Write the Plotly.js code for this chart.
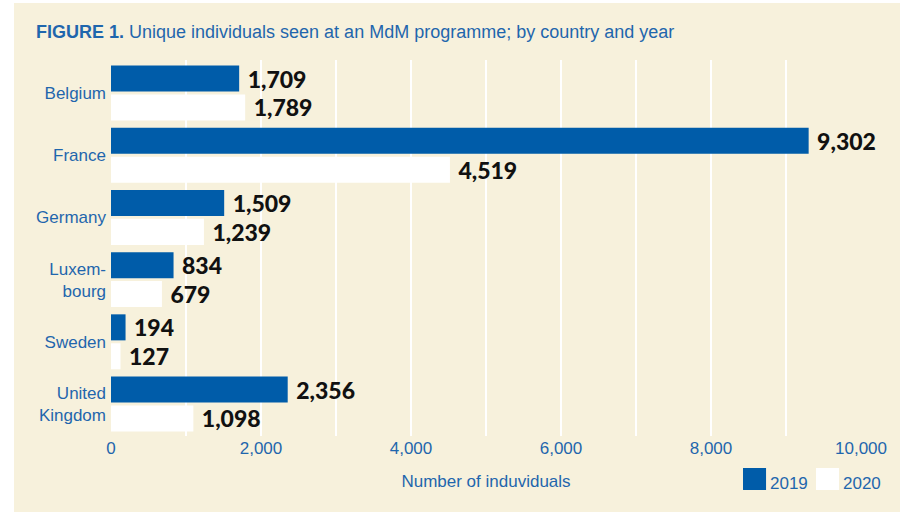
<!DOCTYPE html>
<html>
<head>
<meta charset="utf-8">
<script src="https://cdn.plot.ly/plotly-3.0.1.min.js"></script>
<style>
  html, body { margin: 0; padding: 0; background: #ffffff; }
  #chart { position: absolute; left: 14px; top: 3px; width: 886px; height: 509px; }
</style>
</head>
<body>
<div id="chart"></div>
<script>
// ── Data ──────────────────────────────────────────────────────
const COUNTRIES = ["Belgium", "France", "Germany", "Luxem-<br>bourg", "Sweden", "United<br>Kingdom"];
const VALUES_2019 = [1709, 9302, 1509, 834, 194, 2356];
const VALUES_2020 = [1789, 4519, 1239, 679, 127, 1098];
const SERIES_NAMES = ["2019", "2020"];
const TICK_VALS = [0, 1000, 2000, 3000, 4000, 5000, 6000, 7000, 8000, 9000, 10000];
const TICK_TEXT = ["0", "", "2,000", "", "4,000", "", "6,000", "", "8,000", "", "10,000"];

const BLUE = "#005ca9";
const WHITE = "#ffffff";
const CREAM = "#f7f1dc";
const TEXT_BLUE = "#1f66ad";
const SANS = "'Liberation Sans', Arial, sans-serif";

const labelFont = { family: "Lato, 'Open Sans', sans-serif", size: 23, color: "#111111", weight: 900 };

function barTrace(name, values, color) {
  return {
    type: "bar",
    orientation: "h",
    name: name,
    y: COUNTRIES,
    x: values,
    marker: { color: color, line: { width: 0 } },
    texttemplate: " %{x:,}",
    textposition: "outside",
    outsidetextfont: labelFont,
    textfont: labelFont,
    constraintext: "none",
    cliponaxis: false,
    hoverinfo: "x+y",
  };
}

const traces = [
  barTrace(SERIES_NAMES[0], VALUES_2019, BLUE),
  barTrace(SERIES_NAMES[1], VALUES_2020, WHITE),
];

// ── Legend key (big squares, drawn as shapes + text) ──────────
const keyColors = [BLUE, WHITE];
const keyX = [0.8427, 0.9400];
const shapes = keyX.map((x, i) => ({
  type: "rect", xref: "paper", yref: "paper",
  x0: x, x1: x + 0.0307, y0: -0.1436, y1: -0.0851,
  fillcolor: keyColors[i], line: { width: 0 },
}));
const annotations = keyX.map((x, i) => ({
  xref: "paper", yref: "paper",
  x: x + 0.033, y: -0.125,
  xanchor: "left", yanchor: "middle",
  text: SERIES_NAMES[i], showarrow: false,
  font: { family: SANS, size: 17, color: TEXT_BLUE },
}));

const layout = {
  width: 886,
  height: 509,
  paper_bgcolor: CREAM,
  plot_bgcolor: CREAM,
  margin: { t: 57, r: 39, b: 76, l: 97 },
  barmode: "group",
  bargap: 0.07,
  bargroupgap: 0.1,
  showlegend: false,
  font: { family: SANS, size: 17, color: TEXT_BLUE },
  title: {
    text: "<b>FIGURE 1.</b> Unique individuals seen at an MdM programme; by country and year",
    font: { family: SANS, size: 18, color: TEXT_BLUE },
    xref: "container", yref: "container",
    x: 0.0248, xanchor: "left",
    y: 0.943, yanchor: "middle",
  },
  xaxis: {
    range: [0, 10000],
    tickmode: "array",
    tickvals: TICK_VALS,
    ticktext: TICK_TEXT,
    showgrid: true,
    gridcolor: WHITE,
    gridwidth: 1.5,
    zeroline: false,
    showline: false,
    ticks: "",
    tickfont: { size: 17, color: TEXT_BLUE },
    title: { text: "Number of induviduals", font: { size: 17, color: TEXT_BLUE }, standoff: 18 },
    fixedrange: true,
  },
  yaxis: {
    type: "category",
    range: [5.514, -0.5305],
    showgrid: false,
    zeroline: false,
    showline: false,
    ticks: "",
    ticklabelstandoff: 4,
    tickfont: { size: 17, color: TEXT_BLUE },
    fixedrange: true,
  },
  shapes: shapes,
  annotations: annotations,
};

Plotly.newPlot("chart", traces, layout, { displayModeBar: false });
</script>
</body>
</html>
